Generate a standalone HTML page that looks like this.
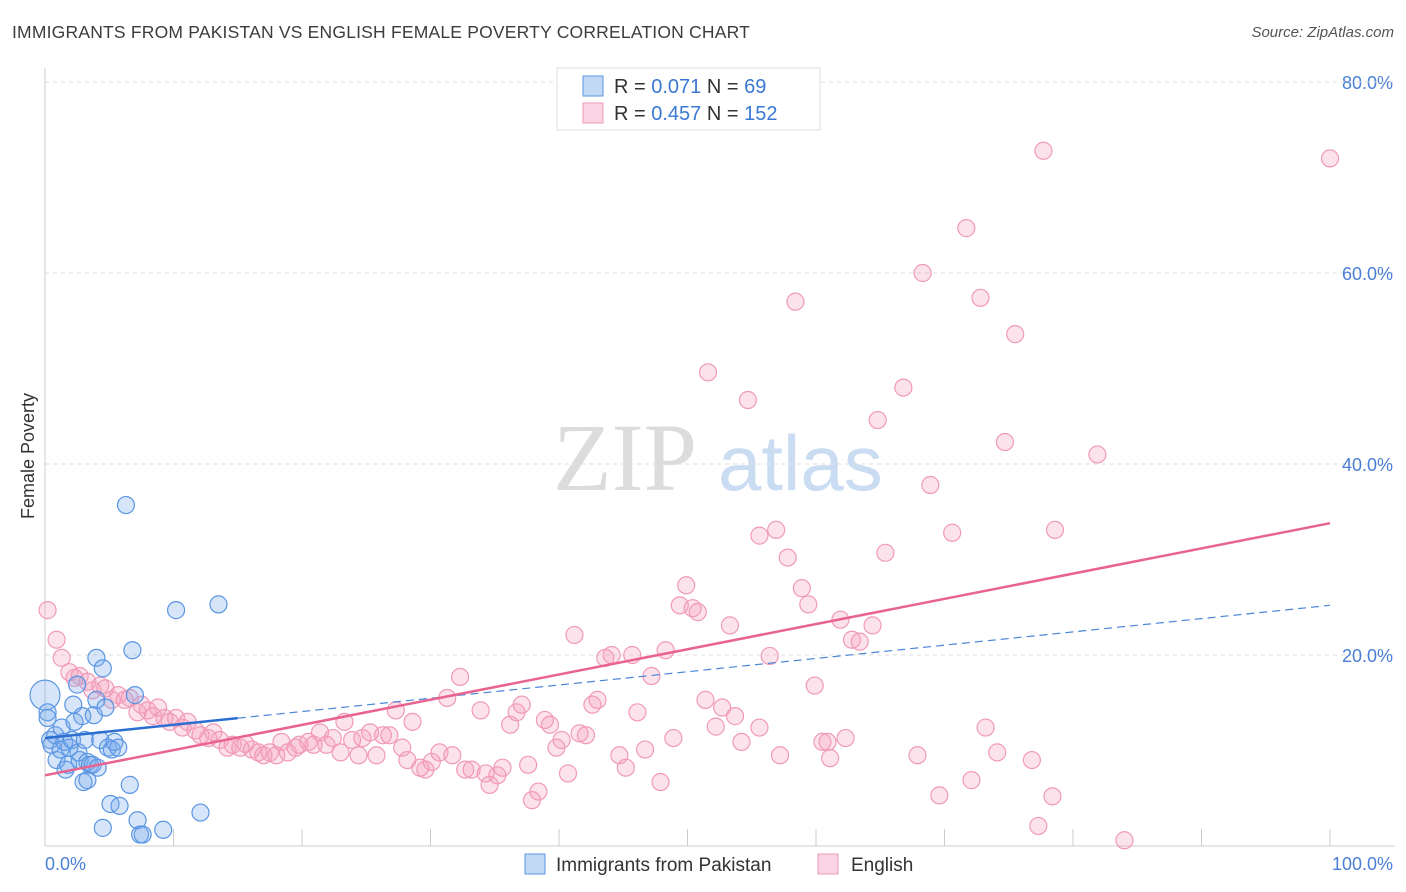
<!DOCTYPE html>
<html><head><meta charset="utf-8"><style>
body{margin:0;background:#fff;font-family:"Liberation Sans",sans-serif;}
#wrap{position:relative;width:1406px;height:892px;overflow:hidden;}
.t{position:absolute;white-space:nowrap;}
</style></head><body>
<div id="wrap">
<div class="t" style="left:12px;top:22px;font-size:17.5px;color:#3c3c3c;letter-spacing:0.2px">IMMIGRANTS FROM PAKISTAN VS ENGLISH FEMALE POVERTY CORRELATION CHART</div>
<div class="t" style="right:12px;top:24px;font-size:15px;color:#555;font-style:italic">Source: ZipAtlas.com</div>
<svg id="chart" width="1406" height="892" style="position:absolute;left:0;top:0"></svg>
</div>
<script>
const pinkX=[0.2,0.9,1.3,1.9,2.3,2.7,3.3,3.7,4.3,4.7,5.2,5.7,6.2,6.6,7.2,7.5,8.0,8.4,8.8,9.3,9.7,10.2,10.7,11.1,11.7,12.1,12.7,13.1,13.6,14.2,14.6,15.2,15.6,16.1,16.6,17.0,17.5,18.0,18.4,18.9,19.5,19.8,20.5,20.9,21.4,21.9,22.4,23.0,23.3,23.9,24.4,24.7,25.3,25.8,26.3,26.8,27.3,27.8,28.2,28.6,29.2,29.6,30.1,30.7,31.3,31.7,32.3,32.7,33.2,33.9,34.3,34.6,35.2,35.6,36.2,36.7,37.1,37.6,37.9,38.4,38.9,39.3,39.8,40.2,40.7,41.2,41.6,42.1,42.6,43.0,43.6,44.1,44.7,45.2,45.7,46.1,46.7,47.2,47.9,48.3,48.9,49.4,49.9,50.4,50.8,51.4,51.6,52.2,52.7,53.3,53.7,54.2,54.7,55.6,55.6,56.4,56.9,57.2,57.8,58.4,58.9,59.4,59.9,60.5,60.9,61.1,61.9,62.3,62.8,63.4,64.4,64.8,65.4,66.8,67.9,68.3,68.9,69.6,70.6,71.7,72.1,72.8,73.2,74.1,74.7,75.5,76.8,77.3,77.7,78.4,78.6,81.9,84.0,100];
const pinkY=[24.7,21.6,19.7,18.2,17.6,17.8,17.2,16.3,16.8,16.5,15.3,15.8,15.3,15.5,14.0,14.8,14.2,13.6,14.5,13.4,13.0,13.4,12.4,13.0,12.1,11.6,11.3,11.9,11.1,10.3,10.6,10.3,10.7,10.1,9.8,9.5,9.8,9.5,10.9,9.8,10.3,10.6,10.9,10.6,11.9,10.6,11.3,9.8,13.0,11.1,9.5,11.3,11.9,9.5,11.6,11.6,14.2,10.3,9.0,13.0,8.2,8.0,8.8,9.8,15.5,9.5,17.7,8.0,8.0,14.2,7.6,6.4,7.4,8.2,12.7,14.0,14.8,8.5,4.8,5.7,13.2,12.7,10.3,11.1,7.6,22.1,11.8,11.6,14.8,15.3,19.7,20.0,9.5,8.2,20.0,14.0,10.1,17.8,6.7,20.5,11.3,25.2,27.3,24.9,24.5,15.3,49.6,12.5,14.5,23.1,13.6,10.9,46.7,12.4,32.5,19.9,33.1,9.5,30.2,57.0,27.0,25.3,16.8,10.9,10.9,9.2,23.7,11.3,21.6,21.4,23.1,44.6,30.7,48.0,9.5,60.0,37.8,5.3,32.8,64.7,6.9,57.4,12.4,9.8,42.3,53.6,9.0,2.1,72.8,5.2,33.1,41.0,0.6,72.0];
const blueX=[0,0.2,0.2,0.4,0.5,0.8,0.9,1.2,1.3,1.5,1.6,1.8,1.9,2.1,2.2,2.3,2.5,2.6,2.7,2.9,3.0,3.1,3.3,3.3,3.5,3.7,3.8,4.0,4.0,4.1,4.3,4.5,4.7,4.9,5.1,5.2,5.4,5.7,5.8,6.3,6.6,6.8,7.0,7.2,7.4,7.6,9.2,10.2,12.1,13.5,4.5];
const blueY=[15.8,14.0,13.4,11.1,10.6,11.6,9.0,10.1,12.4,10.9,8.0,8.5,10.3,11.1,14.8,13.0,16.9,9.8,9.0,13.6,6.7,11.1,6.9,8.8,8.5,8.5,13.7,19.7,15.3,8.2,11.1,18.6,14.5,10.3,4.4,10.1,10.9,10.3,4.2,35.7,6.4,20.5,15.8,2.7,1.2,1.2,1.7,24.7,3.5,25.3,1.9];
const pinkFit=[7.4,33.8]; // y at x=0, x=100
const blueFit=[11.3,25.2];
const blueSolidEnd=15;
const yTicks=[20,40,60,80];
const yTickLabels=["20.0%","40.0%","60.0%","80.0%"];
const xTicks=[0,10,20,30,40,50,60,70,80,90,100];

const L=45,R=1330,B=846,T=82;
const sx=v=>L+(R-L)*v/100;
const sy=v=>B-(B-T)*v/80;
const svg=document.getElementById('chart');
const NS='http://www.w3.org/2000/svg';
function mk(tag,attrs,parent){const e=document.createElementNS(NS,tag);for(const k in attrs)e.setAttribute(k,attrs[k]);(parent||svg).appendChild(e);return e;}

// watermark
let wm=mk('text',{x:553,y:490,'font-size':96,'font-family':'Liberation Serif,serif',fill:'#dcdcdc'});


wm.textContent='ZIP';
let wm2=mk('text',{x:718,y:490,'font-size':78,'font-family':'Liberation Sans,sans-serif',fill:'#c9dcf2'});


wm2.textContent='atlas';

// grid
yTicks.forEach((v,i)=>{
  const g=mk('line',{x1:L,x2:1395,y1:sy(v),y2:sy(v),stroke:'#dedede','stroke-dasharray':'4,4'});
  
  
  const t=mk('text',{x:1393,y:sy(v)+7,'text-anchor':'end','font-size':18,fill:'#4a7fd6'});
  
  
  t.textContent=yTickLabels[i];
});
let g0=mk('line',{x1:L,x2:1395,y1:T,y2:T,stroke:'#dedede','stroke-dasharray':'4,4'});


// axes
let ya=mk('line',{x1:L,x2:L,y1:68,y2:B,stroke:'#ccc'});


let xa=mk('line',{x1:L,x2:1395,y1:B,y2:B,stroke:'#ccc'});


xTicks.forEach(v=>{
  const t=mk('line',{x1:sx(v),x2:sx(v),y1:B,y2:B-17,stroke:'#ccc'});
  
  
});
let xl0=mk('text',{x:45,y:870,'font-size':18,fill:'#4a7fd6'});


xl0.textContent='0.0%';
let xl1=mk('text',{x:1393,y:870,'text-anchor':'end','font-size':18,fill:'#4a7fd6'});


xl1.textContent='100.0%';
let yt=mk('text',{x:34,y:456,'text-anchor':'middle','font-size':18,fill:'#333',transform:'rotate(-90 34 456)'});


yt.textContent='Female Poverty';

// points
pinkX.forEach((x,i)=>{
  const c=mk('circle',{cx:sx(x),cy:sy(pinkY[i]),r:8.5,fill:'rgba(244,160,190,0.3)',stroke:'#f09ab8','stroke-width':1.2});
  
  
});
blueX.forEach((x,i)=>{
  const c=mk('circle',{cx:sx(x),cy:sy(blueY[i]),r:i===0?15:8.5,fill:'rgba(120,170,235,0.3)',stroke:'#5a96e3','stroke-width':1.2});
  
  
});
// fits
const by=x=>blueFit[0]+(blueFit[1]-blueFit[0])*x/100;
let bd=mk('line',{x1:sx(blueSolidEnd),y1:sy(by(blueSolidEnd)),x2:sx(100),y2:sy(by(100)),stroke:'#4a86d8','stroke-width':1.2,'stroke-dasharray':'8,5'});


let bs=mk('line',{x1:sx(0),y1:sy(by(0)),x2:sx(blueSolidEnd),y2:sy(by(blueSolidEnd)),stroke:'#2d6fd0','stroke-width':2.5});


let pl=mk('line',{x1:sx(0),y1:sy(pinkFit[0]),x2:sx(100),y2:sy(pinkFit[1]),stroke:'#e8638f','stroke-width':2.5});



// top legend
let lb=mk('rect',{x:557,y:68,width:263,height:62,fill:'#fff',stroke:'#ddd'});


[[0,'rgba(120,170,235,0.45)','#5a96e3','0.071',' 69'],[1,'rgba(244,160,190,0.45)','#f09ab8','0.457','152']].forEach(([i,f,s,r,n])=>{
  const y=86+i*27;
  const b=mk('rect',{x:583,y:y-10,width:20,height:20,fill:f,stroke:s});
  
  
  const t=mk('text',{x:614,y:y+7,'font-size':20,fill:'#333'});
  
  
  t.innerHTML='R = <tspan fill="#3a78d4">'+r+'</tspan>   N = <tspan fill="#3a78d4">'+n+'</tspan>';
  t.setAttribute('xml:space','preserve');
});
// bottom legend
[[525,'rgba(120,170,235,0.45)','#5a96e3','Immigrants from Pakistan',556],[818,'rgba(244,160,190,0.45)','#f09ab8','English',851]].forEach(([x,f,s,l,tx])=>{
  const b=mk('rect',{x:x,y:854,width:20,height:20,fill:f,stroke:s});
  
  
  const t=mk('text',{x:tx,y:871,'font-size':19,fill:'#333'});
  
  
  t.textContent=l;
});
</script>
</body></html>
